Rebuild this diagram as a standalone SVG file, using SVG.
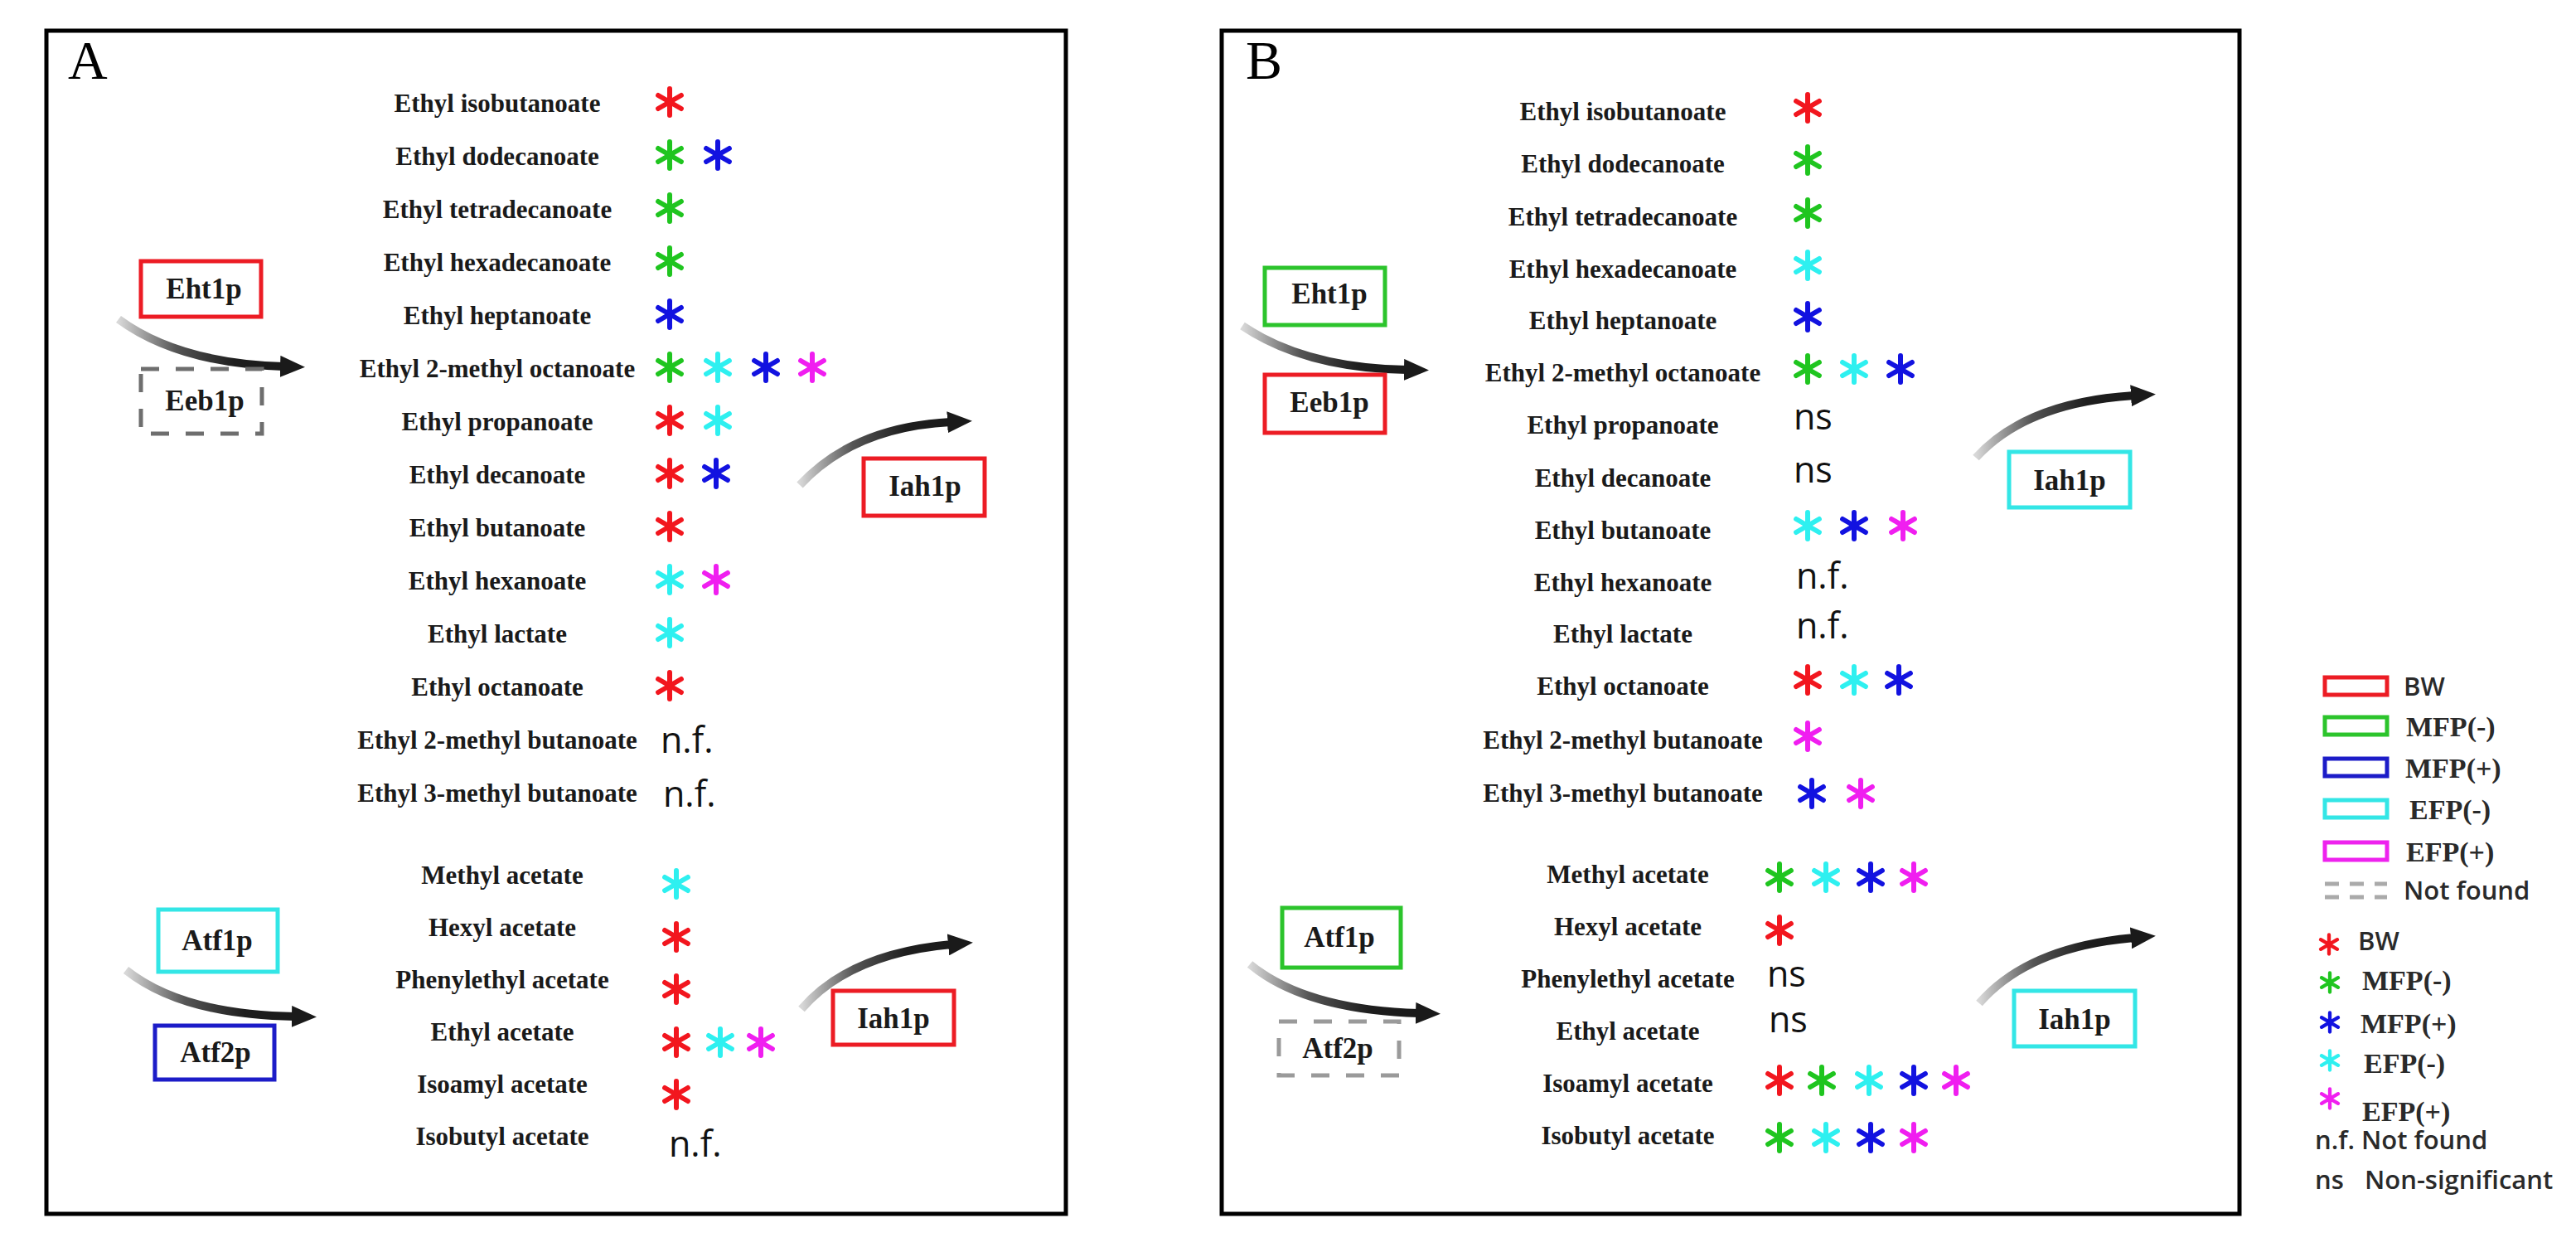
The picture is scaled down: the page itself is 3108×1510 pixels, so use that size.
<svg xmlns="http://www.w3.org/2000/svg" width="3108" height="1510" viewBox="0 0 3108 1510">
<style>
.frame{fill:none;stroke:#000;stroke-width:5}
.panel{font-family:"Liberation Serif","Times New Roman",serif;font-size:66px;fill:#000}
.lbl{font-family:"Liberation Serif","Times New Roman",serif;font-weight:bold;font-size:31px;fill:#1a1a1a;text-anchor:middle}
.enz{font-family:"Liberation Serif","Times New Roman",serif;font-weight:bold;font-size:35px;fill:#1a1a1a;text-anchor:middle}
.box{fill:none;stroke-width:5}
.nfbox{fill:none;stroke:#6e6e6e;stroke-width:5;stroke-dasharray:22 20}
.nfbox2{fill:none;stroke:#9a9a9a;stroke-width:5;stroke-dasharray:22 20}
.sans{font-family:"Open Sans","Noto Sans","DejaVu Sans",sans-serif;font-size:43px;fill:#111}
.lgs{font-family:"Open Sans","Noto Sans","DejaVu Sans",sans-serif;font-weight:600;font-size:31px;fill:#2a2a2a}
.lgt{font-family:"Liberation Serif","Times New Roman",serif;font-weight:bold;font-size:34px;fill:#2a2a2a}
.arc{fill:none;stroke:url(#fade);stroke-width:10;marker-end:url(#head)}
.sr{stroke:#ec1c24}.sg{stroke:#2cc42c}.sb{stroke:#1c1cc8}.sc{stroke:#33e6e6}.sm{stroke:#ee22ee}
.r{color:#f2161e}.g{color:#1fc51f}.b{color:#1212e0}.c{color:#2ef0f0}.m{color:#f01ef0}
</style>
<defs>
<linearGradient id="fade" x1="0" y1="0" x2="1" y2="0">
<stop offset="0" stop-color="#d8d8d8"/>
<stop offset="0.35" stop-color="#555"/>
<stop offset="0.7" stop-color="#1e1e1e"/>
<stop offset="1" stop-color="#1a1a1a"/>
</linearGradient>
<marker id="head" viewBox="0 0 30 26" markerUnits="userSpaceOnUse" markerWidth="30" markerHeight="26" refX="4" refY="13" orient="auto">
<path d="M0 0L30 13L0 26Z" fill="#1a1a1a"/>
</marker>
<g id="ast"><path d="M0 -16V16M-13.9 -8L13.9 8M-13.9 8L13.9 -8" fill="none" stroke="currentColor" stroke-width="6" stroke-linecap="round"/></g>
</defs>
<rect width="3108" height="1510" fill="#fff"/>

<g id="panel-A">
<rect class="frame" x="56" y="37" width="1230" height="1427"/>
<text class="panel" x="82" y="95">A</text>
</g>
<g id="panel-B">
<rect class="frame" x="1474" y="37" width="1228" height="1427"/>
<text class="panel" x="1503" y="95">B</text>
</g>

<g id="connectors">
<path class="arc" d="M143 385Q215 438 342 442"/>
<path class="arc" d="M965 585Q1030 515 1147 509"/>
<path class="arc" d="M152 1170Q220 1224 356 1226"/>
<path class="arc" d="M967 1217Q1025 1150 1148 1139"/>
<path class="arc" d="M1499 393Q1575 444 1698 446"/>
<path class="arc" d="M2384 552Q2445 485 2575 477"/>
<path class="arc" d="M1508 1163Q1575 1218 1712 1222"/>
<path class="arc" d="M2388 1210Q2447 1142 2575 1131"/>
</g>

<g id="A-Eht1p"><rect class="box sr" x="170" y="315" width="145" height="67"/><text class="enz" x="246" y="360">Eht1p</text></g>
<g id="A-Eeb1p"><rect class="nfbox" x="170" y="445" width="146" height="78"/><text class="enz" x="247" y="495">Eeb1p</text></g>
<g id="A-Iah1p-top"><rect class="box sr" x="1042" y="553" width="146" height="69"/><text class="enz" x="1116" y="598">Iah1p</text></g>
<g id="A-Atf1p"><rect class="box sc" x="191" y="1097" width="144" height="75"/><text class="enz" x="262" y="1146">Atf1p</text></g>
<g id="A-Atf2p"><rect class="box sb" x="187" y="1237" width="144" height="65"/><text class="enz" x="260" y="1281">Atf2p</text></g>
<g id="A-Iah1p-bottom"><rect class="box sr" x="1005" y="1195" width="146" height="65"/><text class="enz" x="1078" y="1240">Iah1p</text></g>

<g id="B-Eht1p"><rect class="box sg" x="1526" y="323" width="145" height="69"/><text class="enz" x="1604" y="366">Eht1p</text></g>
<g id="B-Eeb1p"><rect class="box sr" x="1526" y="452" width="145" height="70"/><text class="enz" x="1604" y="497">Eeb1p</text></g>
<g id="B-Iah1p-top"><rect class="box sc" x="2424" y="545" width="146" height="67"/><text class="enz" x="2497" y="591">Iah1p</text></g>
<g id="B-Atf1p"><rect class="box sg" x="1547" y="1095" width="143" height="72"/><text class="enz" x="1616" y="1142">Atf1p</text></g>
<g id="B-Atf2p"><rect class="nfbox2" x="1543" y="1232" width="145" height="65"/><text class="enz" x="1614" y="1276">Atf2p</text></g>
<g id="B-Iah1p-bottom"><rect class="box sc" x="2430" y="1195" width="146" height="67"/><text class="enz" x="2503" y="1241">Iah1p</text></g>

<g id="A-esters">
<g id="A-e1"><text class="lbl" x="600" y="135">Ethyl isobutanoate</text><use href="#ast" x="808" y="123" class="r"/></g>
<g id="A-e2"><text class="lbl" x="600" y="199">Ethyl dodecanoate</text><use href="#ast" x="808" y="187" class="g"/><use href="#ast" x="866" y="187" class="b"/></g>
<g id="A-e3"><text class="lbl" x="600" y="263">Ethyl tetradecanoate</text><use href="#ast" x="808" y="251" class="g"/></g>
<g id="A-e4"><text class="lbl" x="600" y="327">Ethyl hexadecanoate</text><use href="#ast" x="808" y="315" class="g"/></g>
<g id="A-e5"><text class="lbl" x="600" y="391">Ethyl heptanoate</text><use href="#ast" x="808" y="379" class="b"/></g>
<g id="A-e6"><text class="lbl" x="600" y="455">Ethyl 2-methyl octanoate</text><use href="#ast" x="808" y="443" class="g"/><use href="#ast" x="866" y="443" class="c"/><use href="#ast" x="924" y="443" class="b"/><use href="#ast" x="980" y="443" class="m"/></g>
<g id="A-e7"><text class="lbl" x="600" y="519">Ethyl propanoate</text><use href="#ast" x="808" y="507" class="r"/><use href="#ast" x="866" y="507" class="c"/></g>
<g id="A-e8"><text class="lbl" x="600" y="583">Ethyl decanoate</text><use href="#ast" x="808" y="571" class="r"/><use href="#ast" x="864" y="571" class="b"/></g>
<g id="A-e9"><text class="lbl" x="600" y="647">Ethyl butanoate</text><use href="#ast" x="808" y="635" class="r"/></g>
<g id="A-e10"><text class="lbl" x="600" y="711">Ethyl hexanoate</text><use href="#ast" x="808" y="699" class="c"/><use href="#ast" x="864" y="699" class="m"/></g>
<g id="A-e11"><text class="lbl" x="600" y="775">Ethyl lactate</text><use href="#ast" x="808" y="763" class="c"/></g>
<g id="A-e12"><text class="lbl" x="600" y="839">Ethyl octanoate</text><use href="#ast" x="808" y="827" class="r"/></g>
<g id="A-e13"><text class="lbl" x="600" y="903">Ethyl 2-methyl butanoate</text><text class="sans" x="797" y="908">n.f.</text></g>
<g id="A-e14"><text class="lbl" x="600" y="967">Ethyl 3-methyl butanoate</text><text class="sans" x="800" y="973">n.f.</text></g>
</g>

<g id="A-acetates">
<g id="A-a1"><text class="lbl" x="606" y="1066">Methyl acetate</text><use href="#ast" x="816" y="1066" class="c"/></g>
<g id="A-a2"><text class="lbl" x="606" y="1129">Hexyl acetate</text><use href="#ast" x="816" y="1130" class="r"/></g>
<g id="A-a3"><text class="lbl" x="606" y="1192">Phenylethyl acetate</text><use href="#ast" x="816" y="1193" class="r"/></g>
<g id="A-a4"><text class="lbl" x="606" y="1255">Ethyl acetate</text><use href="#ast" x="816" y="1257" class="r"/><use href="#ast" x="869" y="1257" class="c"/><use href="#ast" x="918" y="1257" class="m"/></g>
<g id="A-a5"><text class="lbl" x="606" y="1318">Isoamyl acetate</text><use href="#ast" x="816" y="1320" class="r"/></g>
<g id="A-a6"><text class="lbl" x="606" y="1381">Isobutyl acetate</text><text class="sans" x="807" y="1395">n.f.</text></g>
</g>

<g id="B-esters">
<g id="B-e1"><text class="lbl" x="1958" y="145">Ethyl isobutanoate</text><use href="#ast" x="2181" y="130" class="r"/></g>
<g id="B-e2"><text class="lbl" x="1958" y="208">Ethyl dodecanoate</text><use href="#ast" x="2181" y="193" class="g"/></g>
<g id="B-e3"><text class="lbl" x="1958" y="272">Ethyl tetradecanoate</text><use href="#ast" x="2181" y="257" class="g"/></g>
<g id="B-e4"><text class="lbl" x="1958" y="335">Ethyl hexadecanoate</text><use href="#ast" x="2181" y="320" class="c"/></g>
<g id="B-e5"><text class="lbl" x="1958" y="397">Ethyl heptanoate</text><use href="#ast" x="2181" y="382" class="b"/></g>
<g id="B-e6"><text class="lbl" x="1958" y="460">Ethyl 2-methyl octanoate</text><use href="#ast" x="2181" y="445" class="g"/><use href="#ast" x="2237" y="445" class="c"/><use href="#ast" x="2293" y="445" class="b"/></g>
<g id="B-e7"><text class="lbl" x="1958" y="523">Ethyl propanoate</text><text class="sans" x="2164" y="518">ns</text></g>
<g id="B-e8"><text class="lbl" x="1958" y="587">Ethyl decanoate</text><text class="sans" x="2164" y="582">ns</text></g>
<g id="B-e9"><text class="lbl" x="1958" y="650">Ethyl butanoate</text><use href="#ast" x="2181" y="634" class="c"/><use href="#ast" x="2237" y="634" class="b"/><use href="#ast" x="2296" y="634" class="m"/></g>
<g id="B-e10"><text class="lbl" x="1958" y="713">Ethyl hexanoate</text><text class="sans" x="2167" y="710">n.f.</text></g>
<g id="B-e11"><text class="lbl" x="1958" y="775">Ethyl lactate</text><text class="sans" x="2167" y="770">n.f.</text></g>
<g id="B-e12"><text class="lbl" x="1958" y="838">Ethyl octanoate</text><use href="#ast" x="2181" y="820" class="r"/><use href="#ast" x="2237" y="820" class="c"/><use href="#ast" x="2291" y="820" class="b"/></g>
<g id="B-e13"><text class="lbl" x="1958" y="903">Ethyl 2-methyl butanoate</text><use href="#ast" x="2181" y="888" class="m"/></g>
<g id="B-e14"><text class="lbl" x="1958" y="967">Ethyl 3-methyl butanoate</text><use href="#ast" x="2186" y="957" class="b"/><use href="#ast" x="2245" y="957" class="m"/></g>
</g>

<g id="B-acetates">
<g id="B-a1"><text class="lbl" x="1964" y="1065">Methyl acetate</text><use href="#ast" x="2147" y="1058" class="g"/><use href="#ast" x="2203" y="1058" class="c"/><use href="#ast" x="2257" y="1058" class="b"/><use href="#ast" x="2309" y="1058" class="m"/></g>
<g id="B-a2"><text class="lbl" x="1964" y="1128">Hexyl acetate</text><use href="#ast" x="2147" y="1122" class="r"/></g>
<g id="B-a3"><text class="lbl" x="1964" y="1191">Phenylethyl acetate</text><text class="sans" x="2132" y="1190">ns</text></g>
<g id="B-a4"><text class="lbl" x="1964" y="1254">Ethyl acetate</text><text class="sans" x="2134" y="1245">ns</text></g>
<g id="B-a5"><text class="lbl" x="1964" y="1317">Isoamyl acetate</text><use href="#ast" x="2147" y="1303" class="r"/><use href="#ast" x="2198" y="1303" class="g"/><use href="#ast" x="2255" y="1303" class="c"/><use href="#ast" x="2309" y="1303" class="b"/><use href="#ast" x="2360" y="1303" class="m"/></g>
<g id="B-a6"><text class="lbl" x="1964" y="1380">Isobutyl acetate</text><use href="#ast" x="2147" y="1372" class="g"/><use href="#ast" x="2203" y="1372" class="c"/><use href="#ast" x="2257" y="1372" class="b"/><use href="#ast" x="2309" y="1372" class="m"/></g>
</g>

<g id="legend">
<rect class="box sr" x="2805" y="817" width="75" height="21"/><text class="lgs" x="2900" y="839">BW</text>
<rect class="box sg" x="2805" y="865" width="75" height="21"/><text class="lgt" x="2903" y="888">MFP(-)</text>
<rect class="box sb" x="2805" y="915" width="75" height="21"/><text class="lgt" x="2902" y="938">MFP(+)</text>
<rect class="box sc" x="2805" y="965" width="75" height="21"/><text class="lgt" x="2907" y="988">EFP(-)</text>
<rect class="box sm" x="2805" y="1016" width="75" height="21"/><text class="lgt" x="2903" y="1039">EFP(+)</text>
<path d="M2805 1066H2880M2805 1082H2880" fill="none" stroke="#aaa" stroke-width="5" stroke-dasharray="17 13"/><text class="lgs" x="2900" y="1085">Not found</text>
<use href="#ast" transform="translate(2810 1139) scale(0.72)" class="r"/><text class="lgs" x="2845" y="1146">BW</text>
<use href="#ast" transform="translate(2811 1185) scale(0.72)" class="g"/><text class="lgt" x="2850" y="1194">MFP(-)</text>
<use href="#ast" transform="translate(2811 1233) scale(0.72)" class="b"/><text class="lgt" x="2848" y="1246">MFP(+)</text>
<use href="#ast" transform="translate(2811 1279) scale(0.72)" class="c"/><text class="lgt" x="2852" y="1294">EFP(-)</text>
<use href="#ast" transform="translate(2811 1325) scale(0.72)" class="m"/><text class="lgt" x="2850" y="1352">EFP(+)</text>
<text class="lgs" x="2793" y="1386">n.f. Not found</text>
<text class="lgs" x="2793" y="1434">ns</text><text class="lgs" x="2853" y="1434">Non-significant</text>
</g>
</svg>
